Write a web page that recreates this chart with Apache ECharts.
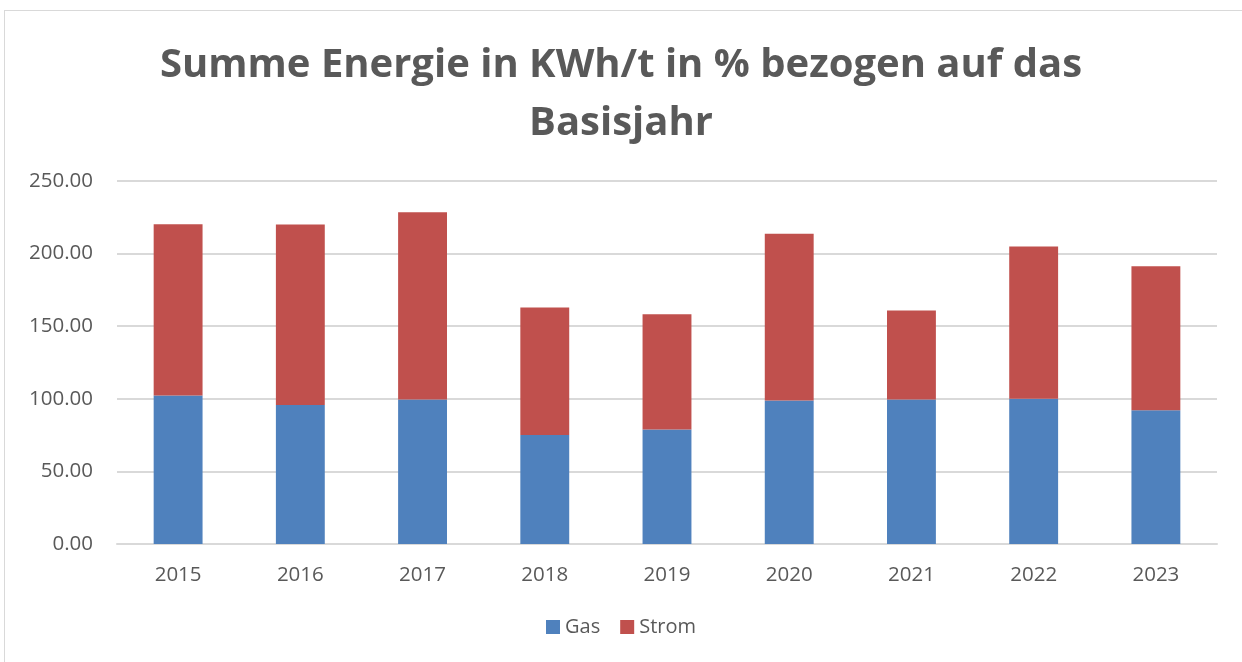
<!DOCTYPE html>
<html>
<head>
<meta charset="utf-8">
<title>Summe Energie</title>
<script src="https://cdn.jsdelivr.net/npm/echarts@6/dist/echarts.min.js"></script>
<style>
  html, body { margin: 0; padding: 0; background: #fff; }
  /* Rahmen wie im Excel-Diagramm */
  .frame {
    position: absolute; left: 4px; top: 10px; width: 1250px; height: 660px;
    border: 1px solid #d9d9d9; box-sizing: border-box;
  }
  #chart { position: absolute; left: 0; top: 0; width: 1242px; height: 662px; }
</style>
</head>
<body>
<div class="frame"></div>
<div id="chart"></div>
<script>
// Daten
var years = ['2015', '2016', '2017', '2018', '2019', '2020', '2021', '2022', '2023'];
var gas = [102.3, 95.7, 99.6, 75.0, 78.9, 98.9, 99.6, 100.0, 92.2];
var strom = [117.9, 124.3, 128.9, 87.9, 79.4, 114.7, 61.2, 104.9, 99.1];

var textColor = '#595959';
var chart = echarts.init(document.getElementById('chart'));

chart.setOption({
  backgroundColor: 'transparent',
  animation: false,
  title: {
    text: 'Summe Energie in KWh/t in % bezogen auf das\nBasisjahr',
    left: 'center',
    top: 32,
    textStyle: {
      fontFamily: 'Open Sans',
      fontWeight: 'bold',
      fontSize: 40,
      lineHeight: 58,
      color: textColor
    }
  },
  grid: {
    left: 117,
    right: 25,
    top: 181,
    bottom: 118,
    containLabel: false
  },
  legend: {
    bottom: 20,
    left: 'center',
    itemWidth: 14,
    itemHeight: 14,
    itemGap: 20,
    icon: 'rect',
    textStyle: { fontFamily: 'Open Sans', fontSize: 20, color: textColor },
    data: ['Gas', 'Strom']
  },
  xAxis: {
    type: 'category',
    data: years,
    axisTick: { show: false },
    axisLine: { lineStyle: { color: '#d9d9d9', width: 2 } },
    axisLabel: { fontFamily: 'Open Sans', fontSize: 20.5, color: textColor, margin: 21 }
  },
  yAxis: {
    type: 'value',
    min: 0,
    max: 250,
    interval: 50,
    axisLine: { show: false },
    axisTick: { show: false },
    splitLine: { lineStyle: { color: '#d9d9d9', width: 2 } },
    axisLabel: {
      fontFamily: 'Open Sans', fontSize: 20.5, color: textColor, margin: 24,
      formatter: function (v) { return v.toFixed(2); }
    }
  },
  series: [
    {
      name: 'Gas',
      type: 'bar',
      stack: 'summe',
      barWidth: '40%',
      data: gas,
      itemStyle: { color: '#4f81bd' }
    },
    {
      name: 'Strom',
      type: 'bar',
      stack: 'summe',
      data: strom,
      itemStyle: { color: '#c0504d' }
    }
  ]
});
</script>
</body>
</html>
